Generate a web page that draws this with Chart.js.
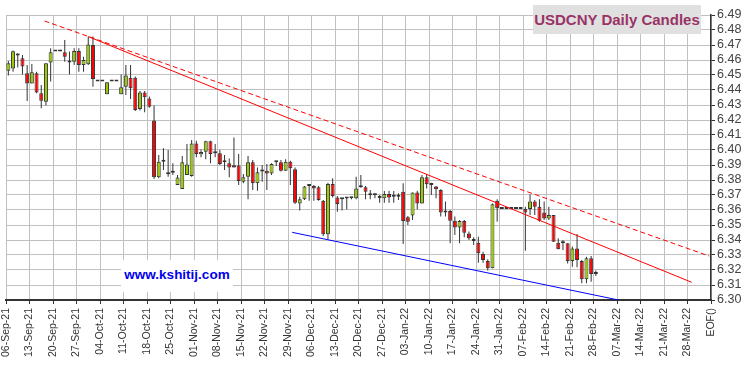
<!DOCTYPE html>
<html>
<head>
<meta charset="utf-8">
<script src="https://cdn.jsdelivr.net/npm/chart.js@4.4.0/dist/chart.umd.min.js"></script>
<style>
  body { margin: 0; background: #fff; }
  #wrap { position: relative; width: 750px; height: 366px; }
  #title {
    position: absolute; left: 533px; top: 5px; width: 168px; height: 29px;
    background: #e0e0e0; color: #993366; text-align: center;
    font: bold 15px Arial, "Liberation Sans", sans-serif; line-height: 29px;
  }
  #site {
    position: absolute; left: 121px; top: 260px; width: 112px; height: 32px;
    background: #fff; color: #0000ee; text-align: center;
    font: bold 13.5px Arial, "Liberation Sans", sans-serif; line-height: 29px;
  }
</style>
</head>
<body>
<div id="wrap">
  <canvas id="candles" width="750" height="366"></canvas>
  <div id="title">USDCNY Daily Candles</div>
  <div id="site">www.kshitij.com</div>
</div>
<script>
// week labels, one every 5 trading days
var weekLabels = [
    "06-Sep-21", "13-Sep-21", "20-Sep-21", "27-Sep-21", "04-Oct-21", "11-Oct-21",
    "18-Oct-21", "25-Oct-21", "01-Nov-21", "08-Nov-21", "15-Nov-21", "22-Nov-21",
    "29-Nov-21", "06-Dec-21", "13-Dec-21", "20-Dec-21", "27-Dec-21", "03-Jan-22",
    "10-Jan-22", "17-Jan-22", "24-Jan-22", "31-Jan-22", "07-Feb-22", "14-Feb-22",
    "21-Feb-22", "28-Feb-22", "07-Mar-22", "14-Mar-22", "21-Mar-22", "28-Mar-22", "EOF()"
];

var yTicks = [6.30, 6.31, 6.32, 6.33, 6.34, 6.35, 6.36, 6.37, 6.38, 6.39,
              6.40, 6.41, 6.42, 6.43, 6.44, 6.45, 6.46, 6.47, 6.48, 6.49];

// daily OHLC, one entry per trading day from 06-Sep-21
var opens = [
    6.4529, 6.4544, 6.4630, 6.4611, 6.4511, 6.4444, 6.4511, 6.4378, 6.4322, 6.4584,
    6.4656, 6.4656, 6.4651, 6.4584, 6.4589, 6.4660, 6.4567, 6.4571, 6.4700, 6.4456,
    6.4456, 6.4371, 6.4456, 6.4456, 6.4371, 6.4422, 6.4482, 6.4482, 6.4273, 6.4384,
    6.4344, 6.4196, 6.3818, 6.3922, 6.3838, 6.3849, 6.3767, 6.3740, 6.3833, 6.3827,
    6.4044, 6.3971, 6.3989, 6.4058, 6.3978, 6.3978, 6.3918, 6.3911, 6.3898, 6.3896,
    6.3789, 6.3822, 6.3918, 6.3778, 6.3856, 6.3862, 6.3844, 6.3918, 6.3918, 6.3862,
    6.3922, 6.3871, 6.3644, 6.3671, 6.3760, 6.3760, 6.3751, 6.3662, 6.3438, 6.3773,
    6.3684, 6.3671, 6.3676, 6.3678, 6.3678, 6.3751, 6.3751, 6.3711, 6.3698, 6.3693,
    6.3678, 6.3707, 6.3689, 6.3693, 6.3722, 6.3551, 6.3564, 6.3716, 6.3644, 6.3818,
    6.3767, 6.3756, 6.3733, 6.3584, 6.3593, 6.3529, 6.3484, 6.3527, 6.3444, 6.3407,
    6.3382, 6.3307, 6.3260, 6.3211, 6.3662, 6.3607, 6.3607, 6.3607, 6.3607, 6.3607,
    6.3607, 6.3607, 6.3656, 6.3622, 6.3584, 6.3544, 6.3567, 6.3382, 6.3378, 6.3378,
    6.3260, 6.3344, 6.3260, 6.3138, 6.3278, 6.3173
];
var highs = [
    6.4593, 6.4664, 6.4645, 6.4633, 6.4567, 6.4573, 6.4522, 6.4433, 6.4578, 6.4678,
    6.4656, 6.4656, 6.4733, 6.4656, 6.4678, 6.4678, 6.4622, 6.4756, 6.4756, 6.4456,
    6.4456, 6.4451, 6.4456, 6.4456, 6.4504, 6.4567, 6.4567, 6.4490, 6.4393, 6.4393,
    6.4356, 6.4296, 6.3967, 6.4011, 6.4000, 6.3911, 6.3833, 6.3960, 6.4040, 6.4067,
    6.4062, 6.4004, 6.4062, 6.4062, 6.4040, 6.4000, 6.3967, 6.3944, 6.4084, 6.3973,
    6.3840, 6.3960, 6.3933, 6.3884, 6.3900, 6.3907, 6.3911, 6.3929, 6.3933, 6.3938,
    6.3929, 6.3884, 6.3689, 6.3760, 6.3767, 6.3767, 6.3760, 6.3667, 6.3782, 6.3811,
    6.3693, 6.3675, 6.3684, 6.3684, 6.3822, 6.3833, 6.3760, 6.3733, 6.3711, 6.3700,
    6.3727, 6.3729, 6.3727, 6.3711, 6.3778, 6.3560, 6.3716, 6.3729, 6.3833, 6.3840,
    6.3782, 6.3760, 6.3738, 6.3656, 6.3600, 6.3556, 6.3533, 6.3533, 6.3456, 6.3418,
    6.3422, 6.3322, 6.3271, 6.3644, 6.3671, 6.3607, 6.3607, 6.3607, 6.3607, 6.3607,
    6.3622, 6.3704, 6.3667, 6.3671, 6.3656, 6.3622, 6.3567, 6.3411, 6.3400, 6.3378,
    6.3356, 6.3440, 6.3267, 6.3289, 6.3293, 6.3196
];
var lows = [
    6.4496, 6.4522, 6.4550, 6.4504, 6.4327, 6.4444, 6.4378, 6.4278, 6.4296, 6.4456,
    6.4656, 6.4656, 6.4589, 6.4504, 6.4567, 6.4522, 6.4522, 6.4567, 6.4422, 6.4456,
    6.4456, 6.4371, 6.4456, 6.4456, 6.4371, 6.4367, 6.4340, 6.4260, 6.4264, 6.4251,
    6.4282, 6.3807, 6.3811, 6.3867, 6.3822, 6.3833, 6.3767, 6.3740, 6.3833, 6.3822,
    6.3951, 6.3951, 6.3938, 6.3911, 6.3951, 6.3900, 6.3867, 6.3818, 6.3884, 6.3767,
    6.3778, 6.3671, 6.3733, 6.3729, 6.3789, 6.3733, 6.3833, 6.3893, 6.3856, 6.3860,
    6.3767, 6.3640, 6.3596, 6.3667, 6.3662, 6.3662, 6.3662, 6.3427, 6.3404, 6.3684,
    6.3589, 6.3596, 6.3604, 6.3671, 6.3671, 6.3749, 6.3671, 6.3671, 6.3678, 6.3649,
    6.3649, 6.3649, 6.3649, 6.3667, 6.3373, 6.3500, 6.3533, 6.3604, 6.3644, 6.3744,
    6.3700, 6.3678, 6.3556, 6.3556, 6.3378, 6.3433, 6.3378, 6.3418, 6.3400, 6.3367,
    6.3249, 6.3249, 6.3196, 6.3211, 6.3522, 6.3607, 6.3607, 6.3607, 6.3607, 6.3607,
    6.3329, 6.3567, 6.3567, 6.3522, 6.3533, 6.3533, 6.3389, 6.3338, 6.3333, 6.3244,
    6.3222, 6.3218, 6.3111, 6.3111, 6.3122, 6.3160
];
var closes = [
    6.4578, 6.4658, 6.4630, 6.4556, 6.4444, 6.4518, 6.4384, 6.4329, 6.4578, 6.4651,
    6.4656, 6.4656, 6.4622, 6.4584, 6.4660, 6.4567, 6.4600, 6.4704, 6.4473, 6.4456,
    6.4456, 6.4451, 6.4456, 6.4456, 6.4418, 6.4496, 6.4411, 6.4267, 6.4384, 6.4351,
    6.4289, 6.3818, 6.3922, 6.3922, 6.3838, 6.3849, 6.3816, 6.3918, 6.3904, 6.4044,
    6.3973, 6.3987, 6.4058, 6.3973, 6.3978, 6.3907, 6.3918, 6.3884, 6.3884, 6.3793,
    6.3818, 6.3918, 6.3778, 6.3851, 6.3856, 6.3844, 6.3907, 6.3918, 6.3862, 6.3922,
    6.3878, 6.3649, 6.3671, 6.3756, 6.3760, 6.3744, 6.3667, 6.3438, 6.3773, 6.3693,
    6.3640, 6.3671, 6.3676, 6.3678, 6.3744, 6.3751, 6.3722, 6.3698, 6.3698, 6.3678,
    6.3707, 6.3684, 6.3689, 6.3689, 6.3527, 6.3522, 6.3716, 6.3644, 6.3818, 6.3771,
    6.3767, 6.3738, 6.3584, 6.3593, 6.3529, 6.3484, 6.3527, 6.3449, 6.3411, 6.3393,
    6.3311, 6.3267, 6.3211, 6.3638, 6.3611, 6.3607, 6.3607, 6.3607, 6.3607, 6.3607,
    6.3584, 6.3656, 6.3622, 6.3529, 6.3544, 6.3567, 6.3389, 6.3338, 6.3378, 6.3260,
    6.3344, 6.3267, 6.3138, 6.3278, 6.3173, 6.3173
];

// trend lines (trading-day position, price)
var upperDashX = [8.2, 149.6];
var upperDashY = [6.4860, 6.3293];
var upperSolidX = [17.5, 145.9];
var upperSolidY = [6.4756, 6.3118];
var lowerLineX = [60.9, 130.3];
var lowerLineY = [6.3451, 6.3000];

function toPoints(xs, ys) {
    return xs.map(function (x, i) { return { x: x, y: ys[i] }; });
}

document.addEventListener("DOMContentLoaded", function () {
    Chart.defaults.font.family = 'Arial, "Liberation Sans", sans-serif';

    // candles sit in the middle of their trading-day slot
    var bodies = opens.map(function (o, i) { return { x: i + 0.5, y: [o, closes[i]] }; });
    var wicks = lows.map(function (l, i) { return { x: i + 0.5, y: [l, highs[i]] }; });
    var bodyColors = opens.map(function (o, i) { return closes[i] >= o ? "#99cc00" : "#ff0000"; });

    var ctx = document.getElementById("candles").getContext("2d");
    new Chart(ctx, {
        type: "bar",
        data: {
            datasets: [
                {
                    type: "line",
                    data: toPoints(upperDashX, upperDashY),
                    borderColor: "#ff0000",
                    borderWidth: 1,
                    borderDash: [5, 3],
                    pointRadius: 0,
                    order: 0
                },
                {
                    type: "line",
                    data: toPoints(upperSolidX, upperSolidY),
                    borderColor: "#ff0000",
                    borderWidth: 1,
                    pointRadius: 0,
                    order: 0
                },
                {
                    type: "line",
                    data: toPoints(lowerLineX, lowerLineY),
                    borderColor: "#0000ff",
                    borderWidth: 1,
                    pointRadius: 0,
                    order: 0
                },
                {
                    data: bodies,
                    backgroundColor: bodyColors,
                    borderColor: "#333333",
                    borderWidth: 1,
                    borderSkipped: false,
                    barThickness: 4,
                    minBarLength: 2,
                    inflateAmount: 0,
                    grouped: false,
                    order: 1
                },
                {
                    data: wicks,
                    backgroundColor: "#333333",
                    borderWidth: 0,
                    barThickness: 1,
                    inflateAmount: 0,
                    grouped: false,
                    order: 2
                }
            ]
        },
        options: {
            responsive: false,
            animation: false,
            devicePixelRatio: 1,
            layout: { padding: { left: 6, top: 15, right: 0, bottom: 0 } },
            plugins: { legend: { display: false }, tooltip: { enabled: false } },
            scales: {
                x: {
                    type: "linear",
                    min: 0,
                    max: 150,
                    offset: false,
                    grid: { color: "#c0c0c0", offset: false, tickLength: 4, tickColor: "#333333" },
                    border: { color: "#333333", width: 2 },
                    ticks: {
                        autoSkip: false,
                        maxRotation: 90,
                        minRotation: 90,
                        padding: 4,
                        color: "#333333",
                        font: { size: 10.5 },
                        callback: function (v) { return weekLabels[Math.round(v / 5)]; }
                    },
                    afterBuildTicks: function (s) {
                        s.ticks = weekLabels.map(function (l, k) { return { value: k * 5 }; });
                    },
                    afterFit: function (s) { s.height = 66; }
                },
                y: {
                    position: "right",
                    min: 6.30,
                    max: 6.49,
                    grid: { color: "#c0c0c0", tickLength: 4, tickColor: "#333333" },
                    border: { color: "#333333", width: 1.5 },
                    ticks: {
                        autoSkip: false,
                        padding: 2,
                        color: "#444444",
                        font: { size: 12.5 },
                        callback: function (v) { return v.toFixed(2); }
                    },
                    afterBuildTicks: function (s) {
                        s.ticks = yTicks.map(function (v) { return { value: v }; });
                    },
                    afterFit: function (s) { s.width = 39; }
                }
            }
        }
    });
});
</script>
</body>
</html>
